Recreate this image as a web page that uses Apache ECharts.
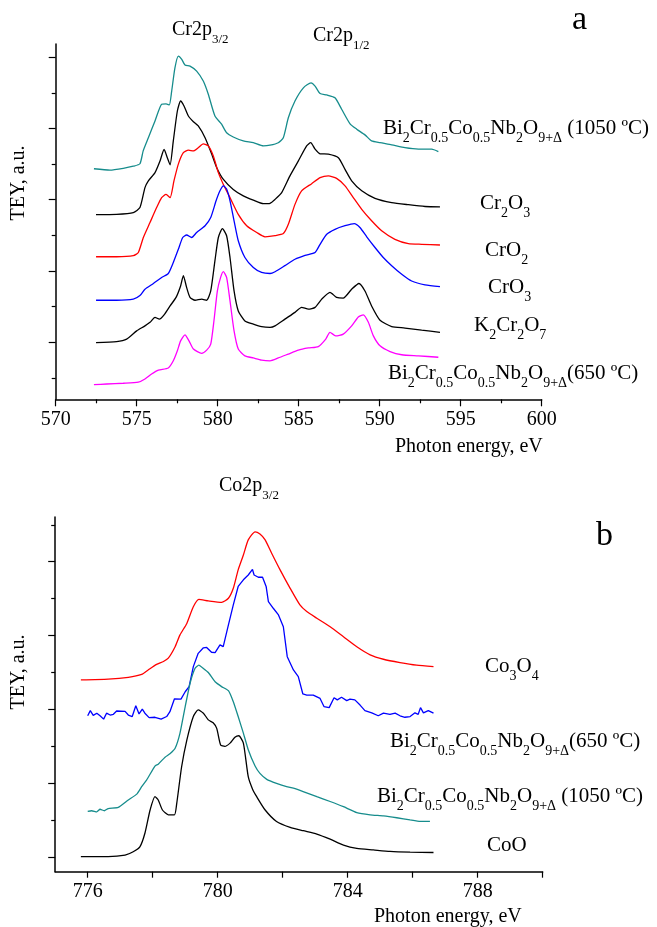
<!DOCTYPE html>
<html>
<head>
<meta charset="utf-8">
<script src="https://cdn.jsdelivr.net/npm/echarts@6/dist/echarts.min.js"></script>
<style>
  html, body { margin: 0; padding: 0; background: #fff; }
  #chart { width: 657px; height: 927px; }
</style>
</head>
<body>
<div id="chart"></div>
<script>
// panel a: Cr L-edge, [photon energy eV, TEY offset a.u.]
const crBi1050 = [[572.36,6.87],[573.35,6.83],[574.17,6.88],[574.79,6.94],[575.2,7.01],[575.4,7.37],[575.72,7.74],[576.13,8.21],[576.54,8.68],[576.81,8.69],[577.01,8.66],[577.16,9.05],[577.36,9.7],[577.57,10.03],[577.78,9.94],[577.98,9.78],[578.29,9.75],[578.7,9.61],[579.11,9.33],[579.42,8.96],[579.83,8.35],[580.24,8.12],[580.55,7.88],[580.96,7.76],[581.58,7.65],[582.2,7.6],[582.82,7.51],[583.23,7.53],[583.74,7.6],[584.05,7.74],[584.36,8.3],[584.77,8.77],[585.29,9.14],[585.76,9.28],[586.01,9.19],[586.32,8.98],[586.73,8.94],[587.24,8.86],[587.65,8.54],[588.17,8.13],[588.58,7.98],[589.09,7.82],[589.5,7.65],[590.02,7.6],[590.74,7.54],[591.56,7.46],[592.39,7.42],[593.21,7.42],[593.62,7.35]];
const crCr2O3 = [[572.49,5.58],[573.76,5.59],[574.79,5.64],[575.2,5.78],[575.51,6.34],[575.72,6.53],[576.13,6.76],[576.44,7.09],[576.69,7.41],[576.89,7.18],[577.06,6.98],[577.26,7.65],[577.51,8.49],[577.71,8.77],[577.92,8.63],[578.19,8.35],[578.5,8.19],[578.8,8.07],[579.22,7.74],[579.63,7.28],[579.94,6.9],[580.35,6.57],[580.96,6.29],[581.58,6.11],[582.2,5.99],[582.82,5.89],[583.23,5.9],[583.54,6.01],[583.95,6.2],[584.46,6.67],[584.98,7.09],[585.49,7.51],[585.74,7.6],[586.01,7.42],[586.32,7.29],[586.83,7.28],[587.45,7.18],[587.86,6.85],[588.27,6.53],[588.89,6.25],[589.71,6.04],[590.74,5.92],[591.77,5.86],[592.8,5.81],[593.72,5.8]];
const crCrO2 = [[572.49,4.4],[573.76,4.4],[574.79,4.43],[575.1,4.52],[575.41,4.94],[575.82,5.36],[576.23,5.78],[576.54,6.06],[576.81,6.15],[577.06,6.06],[577.3,6.53],[577.57,7.0],[577.88,7.32],[578.19,7.39],[578.5,7.37],[578.8,7.46],[579.11,7.57],[579.42,7.51],[579.73,7.23],[580.04,6.76],[580.35,6.43],[580.76,6.06],[581.27,5.59],[581.79,5.27],[582.41,5.08],[582.92,4.96],[583.54,4.99],[584.05,5.05],[584.36,5.31],[584.77,5.87],[585.18,6.25],[585.8,6.45],[586.32,6.62],[586.83,6.67],[587.34,6.6],[587.86,6.39],[588.37,6.06],[588.89,5.73],[589.5,5.41],[590.12,5.13],[590.94,4.89],[591.77,4.77],[592.59,4.75],[593.72,4.73]];
const crCrO3 = [[572.49,3.18],[573.76,3.18],[574.79,3.21],[575.2,3.31],[575.51,3.49],[576.03,3.65],[576.54,3.82],[576.95,3.93],[577.26,4.24],[577.57,4.61],[577.84,4.94],[578.08,5.01],[578.39,4.94],[578.7,5.08],[579.22,5.27],[579.57,5.5],[579.9,5.97],[580.14,6.25],[580.35,6.39],[580.55,6.3],[580.76,5.97],[581.01,5.41],[581.27,4.85],[581.68,4.38],[582.2,4.1],[582.71,3.96],[583.23,3.93],[583.54,3.98],[584.15,4.15],[584.77,4.33],[585.39,4.44],[586.01,4.52],[586.32,4.75],[586.73,5.03],[587.24,5.17],[587.86,5.27],[588.43,5.33],[588.78,5.22],[589.2,4.96],[589.71,4.66],[590.22,4.38],[590.74,4.15],[591.36,3.91],[591.97,3.72],[592.8,3.61],[593.72,3.56]];
const crK2Cr2O7 = [[572.49,1.99],[573.76,2.02],[574.38,2.09],[575.0,2.32],[575.51,2.46],[575.82,2.56],[576.13,2.7],[576.4,2.65],[576.69,2.77],[577.06,3.02],[577.43,3.26],[577.71,3.58],[577.88,3.87],[578.08,3.54],[578.29,3.26],[578.6,3.18],[579.01,3.21],[579.32,3.18],[579.57,3.44],[579.83,4.29],[580.04,4.94],[580.29,5.19],[580.55,4.99],[580.76,4.38],[581.01,3.44],[581.27,2.88],[581.68,2.6],[582.2,2.51],[582.71,2.44],[583.23,2.42],[583.54,2.46],[584.15,2.65],[584.77,2.84],[585.18,2.98],[585.6,2.93],[586.01,2.98],[586.42,3.21],[586.93,3.4],[587.34,3.26],[587.75,3.24],[588.27,3.49],[588.72,3.65],[589.09,3.44],[589.5,3.02],[590.02,2.62],[590.74,2.44],[591.56,2.4],[592.59,2.34],[593.72,2.28]];
const crBi650 = [[572.36,0.81],[573.15,0.83],[574.17,0.85],[575.1,0.88],[575.51,0.97],[575.92,1.11],[576.34,1.22],[576.95,1.28],[577.26,1.48],[577.51,1.76],[577.71,2.04],[577.98,2.21],[578.23,2.04],[578.5,1.81],[579.01,1.69],[579.32,1.78],[579.57,1.95],[579.77,2.61],[579.98,3.44],[580.18,3.82],[580.35,3.98],[580.55,3.82],[580.76,3.16],[581.01,2.32],[581.27,1.81],[581.68,1.62],[582.2,1.56],[582.71,1.5],[583.23,1.48],[583.74,1.56],[584.36,1.67],[584.98,1.78],[585.6,1.84],[586.21,1.88],[586.67,2.09],[586.93,2.28],[587.28,2.18],[587.75,2.23],[588.27,2.46],[588.68,2.71],[588.99,2.77],[589.3,2.56],[589.61,2.18],[590.02,1.9],[590.64,1.74],[591.36,1.65],[592.39,1.62],[593.62,1.58]];

// panel b: Co L3-edge
const coCo3O4 = [[775.79,4.8],[776.63,4.82],[777.25,4.87],[777.66,4.95],[777.86,5.07],[778.12,5.22],[778.33,5.3],[778.48,5.39],[778.69,5.7],[778.84,6.02],[779.05,6.33],[779.25,6.78],[779.42,6.98],[779.71,6.94],[780.12,6.9],[780.33,7.01],[780.48,7.28],[780.63,7.78],[780.79,8.18],[780.94,8.59],[781.15,8.81],[781.3,8.75],[781.46,8.59],[781.66,8.23],[781.92,7.78],[782.23,7.28],[782.53,6.83],[782.74,6.65],[783.05,6.47],[783.46,6.24],[783.87,5.97],[784.28,5.7],[784.69,5.48],[785.1,5.36],[785.61,5.27],[786.12,5.2],[786.64,5.16]];
const coBi650 = [[776.0,3.83],[776.08,3.97],[776.17,3.84],[776.28,3.9],[776.38,3.83],[776.49,3.74],[776.58,3.9],[776.69,3.85],[776.79,3.87],[776.89,3.96],[777.15,3.95],[777.25,3.85],[777.37,3.81],[777.48,4.1],[777.58,3.88],[777.68,4.01],[777.76,3.9],[777.89,3.78],[778.07,3.79],[778.26,3.74],[778.43,3.81],[778.53,3.94],[778.67,4.29],[778.87,4.28],[779.0,4.48],[779.12,4.62],[779.25,5.16],[779.4,5.52],[779.56,5.67],[779.66,5.68],[779.81,5.55],[779.92,5.54],[780.07,5.75],[780.17,5.7],[780.33,6.29],[780.48,6.83],[780.63,7.33],[780.79,7.51],[780.94,7.64],[781.07,7.79],[781.12,7.64],[781.25,7.58],[781.38,7.58],[781.49,7.33],[781.56,6.92],[781.71,6.74],[781.87,6.56],[782.02,6.24],[782.14,5.43],[782.33,5.07],[782.48,4.89],[782.62,4.42],[782.74,4.39],[782.94,4.39],[783.15,4.3],[783.27,4.08],[783.43,4.05],[783.58,4.32],[783.68,4.26],[783.81,4.33],[783.97,4.24],[784.07,4.28],[784.22,4.26],[784.38,4.12],[784.53,3.97],[784.74,3.91],[784.94,3.83],[785.1,3.9],[785.3,3.87],[785.46,3.9],[785.61,3.83],[785.76,3.79],[785.92,3.81],[786.07,3.91],[786.17,3.87],[786.24,4.05],[786.33,3.91],[786.48,3.97],[786.64,3.9]];
const coBi1050 = [[776.0,1.24],[776.12,1.26],[776.28,1.23],[776.38,1.3],[776.51,1.26],[776.63,1.32],[776.94,1.35],[777.25,1.55],[777.51,1.71],[777.66,1.91],[777.81,2.09],[778.07,2.47],[778.17,2.52],[778.38,2.71],[778.53,2.8],[778.69,2.95],[778.84,3.36],[779.0,4.08],[779.15,4.71],[779.3,5.11],[779.42,5.2],[779.56,5.11],[779.71,5.0],[779.92,4.75],[780.12,4.62],[780.33,4.51],[780.48,4.21],[780.63,3.81],[780.79,3.36],[780.94,2.91],[781.15,2.47],[781.3,2.27],[781.51,2.11],[781.81,2.0],[782.12,1.91],[782.33,1.87],[782.63,1.78],[783.05,1.64],[783.46,1.51],[783.87,1.37],[784.28,1.21],[784.69,1.15],[785.1,1.12],[785.51,1.07],[785.92,1.01],[786.23,0.97],[786.53,0.97]];
const coCoO = [[775.79,0.02],[776.63,0.02],[777.15,0.06],[777.4,0.15],[777.61,0.29],[777.76,0.65],[777.92,1.28],[778.07,1.64],[778.17,1.55],[778.3,1.28],[778.48,1.15],[778.67,1.15],[778.74,1.46],[778.89,2.45],[779.05,3.17],[779.25,3.81],[779.4,3.99],[779.56,3.9],[779.71,3.72],[779.86,3.64],[779.97,3.49],[780.09,3.04],[780.22,3.0],[780.38,3.09],[780.53,3.25],[780.65,3.29],[780.79,3.09],[780.94,2.18],[781.07,1.85],[781.2,1.64],[781.46,1.28],[781.81,0.97],[782.23,0.81],[782.63,0.72],[783.05,0.63],[783.46,0.49],[783.87,0.33],[784.28,0.24],[784.79,0.2],[785.3,0.16],[785.92,0.14],[786.64,0.13]];

// ticks
const crMajorY = [2, 4, 6, 8, 10];
const crMinorY = [1, 3, 5, 7, 9];
const coMajorY = [0, 2, 4, 6, 8];
const coMinorY = [1, 3, 5, 7, 9];
const coTicksX = [776, 778, 780, 782, 784, 786, 788, 790];
const coLabelsX = [776, 780, 784, 788];

const F = 'Liberation Serif, Times New Roman, serif';
const TEAL = '#168c8c';

const chart = echarts.init(document.getElementById('chart'));

const rich = {
  m: { fontSize: 21, fontFamily: F, color: '#000', lineHeight: 22 },
  s: { fontSize: 14, fontFamily: F, color: '#000', lineHeight: 14, padding: [20, 0, 0, 0] },
  M: { fontSize: 20, fontFamily: F, color: '#000', lineHeight: 22 },
  S: { fontSize: 13, fontFamily: F, color: '#000', lineHeight: 13, padding: [19, 0, 0, 0] }
};
const bi1050 = '{m|Bi}{s|2}{m|Cr}{s|0.5}{m|Co}{s|0.5}{m|Nb}{s|2}{m|O}{s|9+Δ}{m| (1050 ºC)}';
const bi650 = '{m|Bi}{s|2}{m|Cr}{s|0.5}{m|Co}{s|0.5}{m|Nb}{s|2}{m|O}{s|9+Δ}{m|(650 ºC)}';

function txt(x, y, text) {
  return { type: 'text', x: x, y: y, silent: true,
    style: { text: text, rich: rich, align: 'left', verticalAlign: 'middle', fontFamily: F, fontSize: 21, fill: '#000' } };
}
function plain(x, y, text, size, align, rot) {
  return { type: 'text', x: x, y: y, silent: true, rotation: rot || 0,
    style: { text: text, fontFamily: F, fontSize: size, fill: '#000', align: align || 'left', verticalAlign: 'middle' } };
}

const axisCommon = {
  type: 'value',
  axisLine: { show: true, onZero: false, lineStyle: { color: '#000', width: 1.5 } },
  splitLine: { show: false },
  axisLabel: { fontFamily: F, fontSize: 20, color: '#000', margin: 10 }
};
function yAx(grid, min, max, ticks, len, line) {
  return Object.assign({}, axisCommon, {
    gridIndex: grid, min: min, max: max, position: 'left', offset: 0,
    axisLine: { show: line, onZero: false, lineStyle: { color: '#000', width: 1.5 } },
    axisTick: { show: true, customValues: ticks, length: len, lineStyle: { color: '#000', width: 1.2 } },
    axisLabel: { show: false }
  });
}
function line(x, y, data, color, smooth) {
  return { type: 'line', xAxisIndex: x, yAxisIndex: y, data: data, showSymbol: false, symbol: 'none',
    smooth: smooth, lineStyle: { color: color, width: 1.3 }, silent: true };
}

chart.setOption({
  animation: false,
  backgroundColor: '#fff',
  grid: [
    { left: 55.7, top: 44, width: 486, height: 355.3 },
    { left: 55.2, top: 517, width: 487.5, height: 354.7 }
  ],
  xAxis: [
    Object.assign({}, axisCommon, { gridIndex: 0, min: 570, max: 600, interval: 5,
      axisTick: { length: 7, lineStyle: { color: '#000', width: 1.2 } },
      minorTick: { show: true, splitNumber: 2, length: 4, lineStyle: { color: '#000', width: 1.2 } } }),
    Object.assign({}, axisCommon, { gridIndex: 1, min: 775, max: 790,
      axisTick: { customValues: coTicksX, length: 6, lineStyle: { color: '#000', width: 1.2 } },
      axisLabel: { customValues: coLabelsX, fontFamily: F, fontSize: 20, color: '#000', margin: 10 } })
  ],
  yAxis: [
    yAx(0, 0.4, 10.37, crMajorY, 7, true),
    yAx(0, 0.4, 10.37, crMinorY, 4, false),
    yAx(1, -0.39, 9.21, coMajorY, 7, true),
    yAx(1, -0.39, 9.21, coMinorY, 4, false)
  ],
  series: [
    line(0, 0, crBi1050, TEAL, 0.2),
    line(0, 0, crCr2O3, '#000', 0.2),
    line(0, 0, crCrO2, '#ff0000', 0.2),
    line(0, 0, crCrO3, '#0000ff', 0.2),
    line(0, 0, crK2Cr2O7, '#000', 0.2),
    line(0, 0, crBi650, '#ff00ff', 0.2),
    line(1, 2, coCo3O4, '#ff0000', 0.2),
    line(1, 2, coBi650, '#0000ff', false),
    line(1, 2, coBi1050, TEAL, 0.15),
    line(1, 2, coCoO, '#000', 0.2)
  ],
  graphic: [
    // panel a
    plain(572, 20, 'a', 34),
    txt(172, 30, '{M|Cr2p}{S|3/2}'),
    txt(313, 36, '{M|Cr2p}{S|1/2}'),
    txt(383, 128, bi1050),
    txt(480, 203, '{m|Cr}{s|2}{m|O}{s|3}'),
    txt(485, 250, '{m|CrO}{s|2}'),
    txt(488, 287, '{m|CrO}{s|3}'),
    txt(474, 325, '{m|K}{s|2}{m|Cr}{s|2}{m|O}{s|7}'),
    txt(388, 373, bi650),
    plain(395, 447, 'Photon energy, eV', 20),
    plain(19, 183, 'TEY, a.u.', 20, 'center', Math.PI / 2),
    // panel b
    plain(596, 536, 'b', 34),
    txt(219, 486, '{M|Co2p}{S|3/2}'),
    txt(485, 666, '{m|Co}{s|3}{m|O}{s|4}'),
    txt(390, 741, bi650),
    txt(377, 796, bi1050),
    txt(487, 845, '{m|CoO}'),
    plain(374, 917, 'Photon energy, eV', 20),
    plain(19, 672, 'TEY, a.u.', 20, 'center', Math.PI / 2)
  ]
});
</script>
</body>
</html>
